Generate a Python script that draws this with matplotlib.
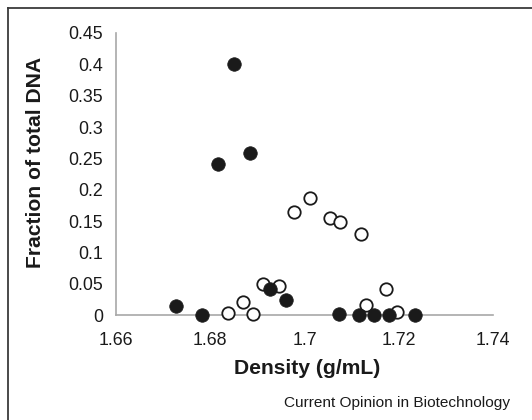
import matplotlib
matplotlib.use("Agg")
import matplotlib.pyplot as plt
from matplotlib.lines import Line2D

plt.rcParams['font.family'] = ['Liberation Sans', 'DejaVu Sans']

# filled circles
filled_x = [1.6728, 1.6783, 1.6817, 1.6851, 1.6884, 1.6927, 1.6960,
            1.7073, 1.7115, 1.7148, 1.7180, 1.7235]
filled_y = [0.014, 0.0, 0.241, 0.400, 0.258, 0.042, 0.024,
            0.001, 0.0, 0.0, 0.0, 0.0]

# open circles
open_x = [1.6837, 1.6869, 1.6891, 1.6912, 1.6945, 1.6978, 1.7012,
          1.7054, 1.7076, 1.7119, 1.7131, 1.7173, 1.7196]
open_y = [0.003, 0.021, 0.001, 0.049, 0.047, 0.165, 0.187,
          0.154, 0.148, 0.129, 0.016, 0.041, 0.004]

xticks = [1.66, 1.68, 1.70, 1.72, 1.74]
xticklabels = ["1.66", "1.68", "1.7", "1.72", "1.74"]
yticks = [0, 0.05, 0.1, 0.15, 0.2, 0.25, 0.3, 0.35, 0.4, 0.45]
yticklabels = ["0", "0.05", "0.1", "0.15", "0.2", "0.25", "0.3", "0.35", "0.4", "0.45"]

fig = plt.figure(figsize=(5.32, 4.2), dpi=100)
ax = fig.add_axes([116/532, 1 - 315/420, (493 - 116)/532, (315 - 33)/420])

ax.scatter(open_x, open_y, s=80, facecolor="white", edgecolor="#1a1a1a",
           linewidth=1.3, zorder=3, clip_on=False)
ax.scatter(filled_x, filled_y, s=95, facecolor="#1a1a1a", edgecolor="#1a1a1a",
           linewidth=0.5, zorder=4, clip_on=False)

ax.set_xlim(1.66, 1.74)
ax.set_ylim(0, 0.45)
ax.set_xticks(xticks)
ax.set_xticklabels(xticklabels)
ax.set_yticks(yticks)
ax.set_yticklabels(yticklabels)
ax.tick_params(length=0, labelsize=12.8, colors="#1a1a1a")
ax.tick_params(axis="y", pad=9.5)
ax.tick_params(axis="x", pad=12)

for s in ["top", "right"]:
    ax.spines[s].set_visible(False)
for s in ["left", "bottom"]:
    ax.spines[s].set_color("#a8a8a8")
    ax.spines[s].set_linewidth(1.2)

fig.text(307/532, 1 - 368/420, "Density (g/mL)", ha="center", va="center",
         fontsize=15.2, fontweight="bold", color="#1a1a1a")
fig.text(36/532, 1 - 162/420, "Fraction of total DNA", ha="center", va="center",
         rotation=90, fontsize=15.2, fontweight="bold", color="#1a1a1a")
fig.text(510/532, 1 - 403/420, "Current Opinion in Biotechnology", ha="right",
         va="center", fontsize=11.1, color="#1a1a1a")

# frame round the figure (open at right and bottom)
fig.add_artist(Line2D([8/532, 1.0], [1 - 8/420] * 2, transform=fig.transFigure,
                      color="#3a3a3a", linewidth=1.3))
fig.add_artist(Line2D([8/532] * 2, [0.0, 1 - 8/420], transform=fig.transFigure,
                      color="#3a3a3a", linewidth=1.3))

fig.savefig("out.png", dpi=100)
